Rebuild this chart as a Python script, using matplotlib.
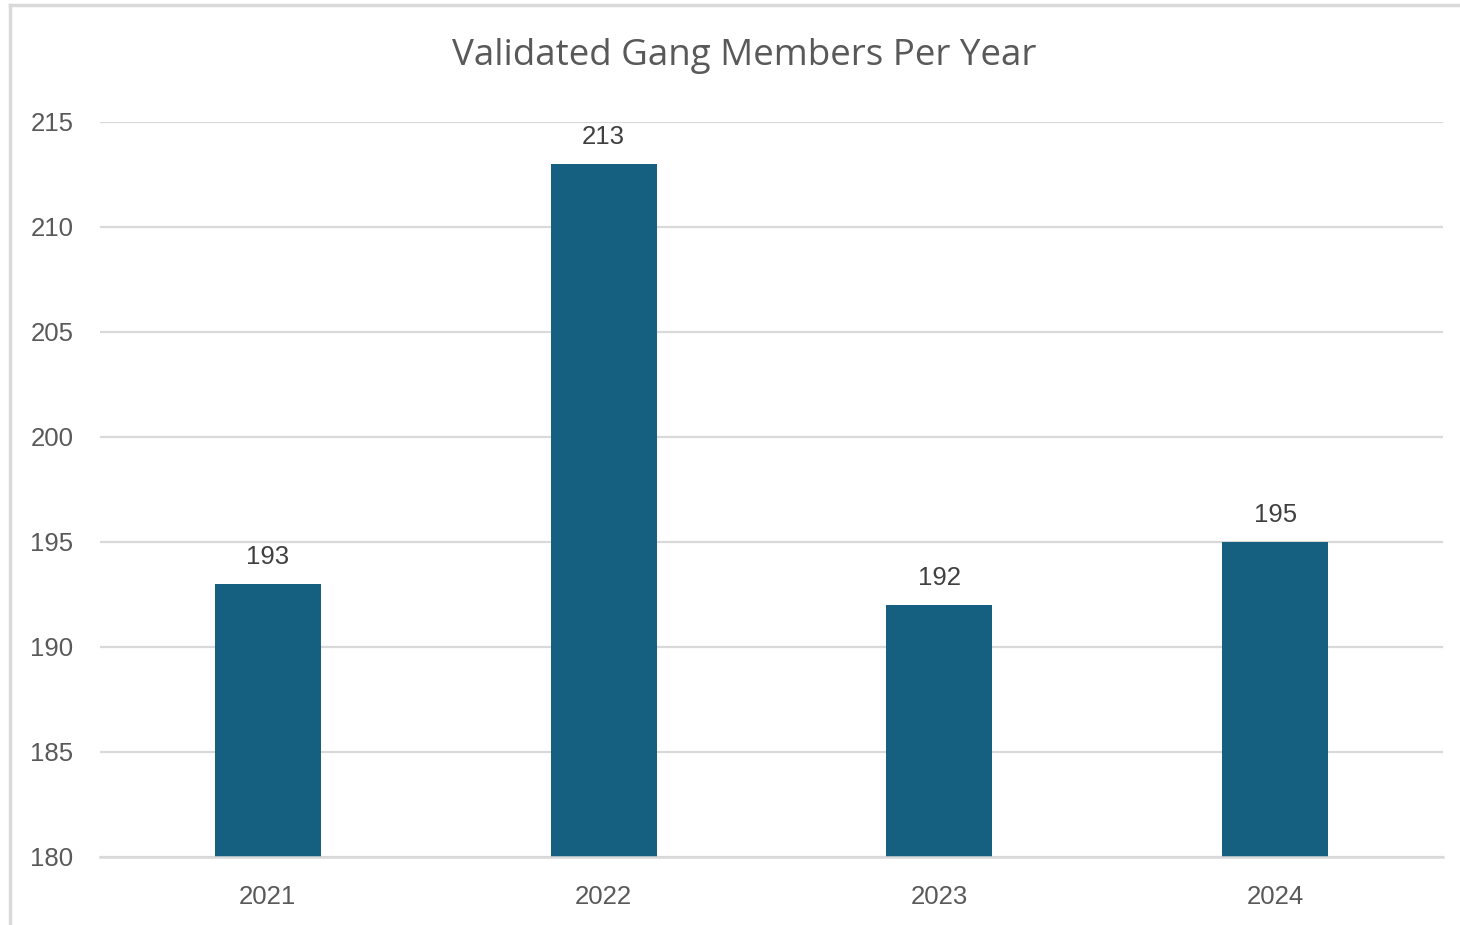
import matplotlib.pyplot as plt
from matplotlib.lines import Line2D

# data
years = ["2021", "2022", "2023", "2024"]
members = [193, 213, 192, 195]

bar_color = "#155f80"
grid_color = "#d9d9d9"
text_color = "#595959"

plt.rcParams['font.family'] = ['Liberation Sans', 'DejaVu Sans']

fig = plt.figure(figsize=(14.6, 9.25), dpi=100)
ax = fig.add_axes([100 / 1460, 1 - 857 / 925, 1343 / 1460, 735 / 925])

x = range(len(years))
bars = ax.bar(x, members, width=0.315, color=bar_color, zorder=3)

ax.set_xlim(-0.5, 3.5)
ax.set_ylim(180, 215)
ax.set_yticks(range(180, 216, 5))
ax.set_xticks(list(x))
ax.set_xticklabels(years)

ax.grid(axis="y", color=grid_color, linewidth=1.6, zorder=0)
for s in ["top", "right", "left"]:
    ax.spines[s].set_visible(False)
ax.spines["bottom"].set_color(grid_color)
ax.spines["bottom"].set_linewidth(1.8)
ax.spines["bottom"].set_zorder(4)

ax.tick_params(axis="both", length=0, labelsize=18.5, labelcolor=text_color)
ax.tick_params(axis="y", pad=19)
ax.tick_params(axis="x", pad=20)

for b, v in zip(bars, members):
    ax.annotate(str(v), (b.get_x() + b.get_width() / 2, v),
                xytext=(0, 11), textcoords="offset points",
                ha="center", va="bottom", fontsize=18.5, color="#404040")

fig.text(744 / 1460, 1 - 56 / 925, "Validated Gang Members Per Year",
         ha="center", va="center", fontsize=26.5, color=text_color,
         family=["Open Sans", "DejaVu Sans"])

# chart frame (left + top edges)
fig.add_artist(Line2D([10 / 1460, 10 / 1460], [0, 1 - 5 / 925],
                      transform=fig.transFigure, color=grid_color, linewidth=2.5))
fig.add_artist(Line2D([10 / 1460, 1], [1 - 5 / 925, 1 - 5 / 925],
                      transform=fig.transFigure, color=grid_color, linewidth=2.5))

fig.savefig("out.png", dpi=100)
